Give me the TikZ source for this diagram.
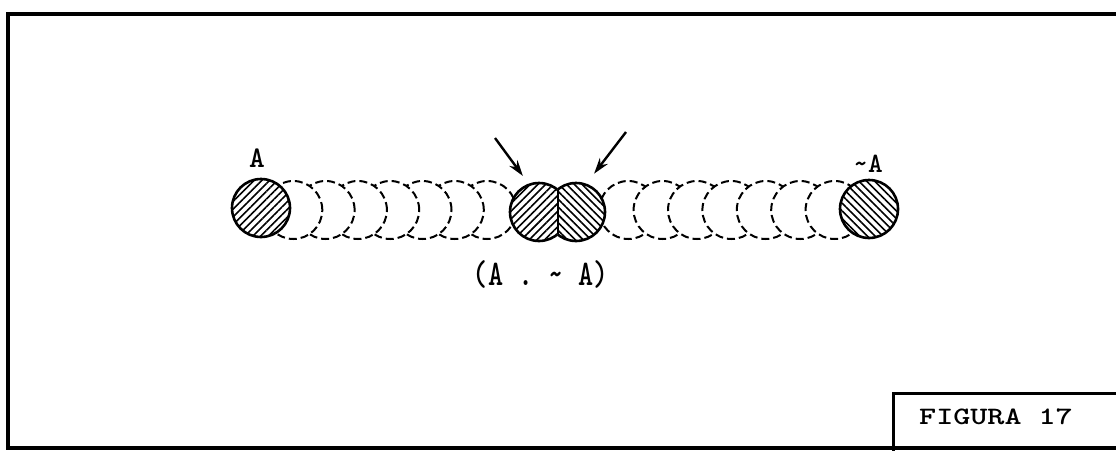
\documentclass[tikz,border=0pt]{standalone}
\usepackage{fontspec}
\usetikzlibrary{arrows.meta,patterns.meta}

\newfontfamily\labelfont{lmmonolt10-bold}[Extension=.otf]
\newfontfamily\pairfont{lmmonolt10-bold}[Extension=.otf,FakeStretch=0.8]
\newfontfamily\figfont{lmmonolt10-bold}[Extension=.otf,FakeStretch=1.3]

\tikzset{
  ball/.style={circle,draw,line width=2.6pt,minimum size=58pt,inner sep=0pt},
  ghost/.style={circle,draw,fill=white,dash pattern=on 8pt off 4pt,line width=2pt,minimum size=58pt,inner sep=0pt},
  hatchL/.style={ball,preaction={fill=white},pattern={Lines[angle=45,distance=5.5pt,line width=1.6pt]}},
  hatchR/.style={ball,preaction={fill=white},pattern={Lines[angle=-45,distance=5.5pt,line width=1.6pt]}},
  pointer/.style={line width=2.4pt,-{Stealth[length=16pt,width=10pt]}},
}

\begin{document}
\begin{tikzpicture}[x=1pt,y=-1pt]
    \useasboundingbox (0,0) rectangle (1116,450);

    % Here is the frame and the label box
    \draw[line width=4pt] (8,14) rectangle (1130,448);
    \draw[line width=3pt] (893,460) |- (1130,393);
    \node[font=\figfont\fontsize{25}{25}\selectfont] (figName) at (996,417) {FIGURA 17};

    % dashed circles, drawn from the middle outwards
    \foreach \k in {7,...,1} {
        \node[ghost] (left\k) at ({261+32.3*\k},210) {};
        \node[ghost] (right\k) at ({869-34.4*\k},210) {};
    }

    % the pair in the middle
    \node[hatchL] (pairL) at (539,212) {};
    \begin{scope}
        \clip (557.5,150) rectangle (640,280);
        \node[hatchR] (pairR) at (576,212) {};
    \end{scope}
    \draw[line width=2pt] (557.5,189.7) -- (557.5,234.3);

    % the two ends
    \node[hatchL] (endA) at (261,208) {};
    \node[hatchR] (endNotA) at (869,209) {};

    % using node for text
    \node[font=\labelfont\fontsize{30}{30}\selectfont] (nameA) at (257,158) {A};
    \node[font=\labelfont\fontsize{28}{28}\selectfont] (nameNotA) at (868,164) {\textasciitilde A};
    \node[font=\pairfont\fontsize{36}{36}\selectfont] (pairName) at (541,274) {(A . \textasciitilde{} A)};

    % arrows to the pair
    \coordinate (tailL) at (495,138);
    \coordinate (tailR) at (626,132);
    \draw[pointer,shorten >=10pt] (tailL) -- (pairL.110);
    \draw[pointer,shorten >=13pt] (tailR) -- (pairR.70);
\end{tikzpicture}
\end{document}
